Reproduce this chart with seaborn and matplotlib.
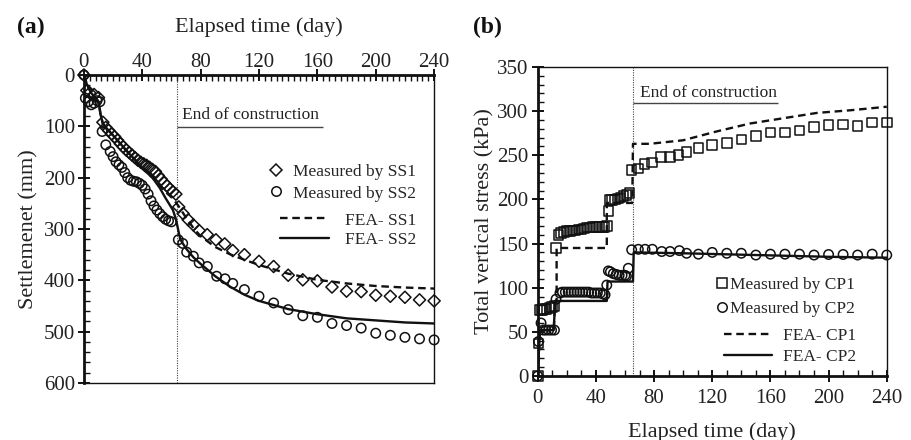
import numpy as np
import pandas as pd
import matplotlib
matplotlib.use("Agg")
import matplotlib.pyplot as plt
import seaborn as sns
from matplotlib.ticker import MultipleLocator
from matplotlib.lines import Line2D

# ---------------- data: panel (a) settlement ----------------
ss1_day = [0, 2, 4, 7, 10, 13, 15, 17, 19, 21, 23, 25, 27, 29, 31, 33, 35, 37, 39, 41,
           43, 45, 47, 49, 51, 53, 55, 57, 59, 61, 63, 65, 68, 71.5, 75, 79, 84.5, 90.5,
           96.5, 102, 110, 120, 130, 140, 150, 160, 170, 180, 190, 200, 210, 220, 230, 240]
ss1_mm = [0, 30, 35, 38, 44, 92, 102, 108, 115, 120, 127, 134, 140, 146, 151, 156, 161, 166,
          170, 173, 176, 180, 184, 188, 196, 203, 210, 216, 222, 227, 232, 257, 270, 282, 292,
          303, 311, 321, 329, 342, 350, 363, 373, 390, 399, 401, 413, 421, 422, 429, 431, 433,
          438, 440]

ss2_day = [0, 1, 3, 5, 7, 9, 11, 12.5, 15, 18, 20, 22, 24, 26, 28, 30, 32, 34, 36, 38, 40,
           42, 44, 46, 48, 50, 52, 54, 56, 58, 60, 64.7, 67.7, 70.4, 75, 79, 84.6, 91, 96.7,
           102, 110, 120, 130, 140, 150, 160, 170, 180, 190, 200, 210, 220, 230, 240]
ss2_mm = [0, 45, 52, 58, 55, 50, 52, 110, 136, 149, 159, 169, 175, 180, 190, 200, 205, 207,
          208, 211, 215, 222, 232, 245, 255, 263, 270, 276, 281, 284, 286, 321, 328, 345, 353,
          366, 373, 392, 397, 406, 418, 431, 444, 457, 469, 472, 484, 488, 493, 503, 507, 511,
          514, 516]

fea_ss1_day = [0, 2, 5, 10, 11.5, 13, 16, 22, 30, 35, 40, 47, 52, 56, 60, 63, 66, 70, 75, 80,
               90, 100, 110, 120, 140, 160, 180, 200, 220, 240]
fea_ss1_mm = [0, 18, 35, 52, 78, 95, 105, 124, 150, 165, 182, 200, 215, 228, 238, 248, 260,
              278, 298, 314, 335, 349, 360, 370, 387, 399, 406, 411, 414, 416]

fea_ss2_day = [0, 2, 5, 10, 11.5, 13, 16, 22, 30, 35, 40, 47, 52, 56, 61, 63, 64.5, 66, 70,
               75, 80, 90, 100, 110, 120, 140, 160, 180, 200, 220, 240]
fea_ss2_mm = [0, 18, 35, 52, 78, 95, 105, 124, 150, 165, 182, 200, 220, 240, 263, 280, 300,
              320, 338, 355, 368, 392, 412, 428, 440, 456, 466, 474, 478, 482, 484]

# ---------------- data: panel (b) total vertical stress ----------------
cp1_day = [0, 0.5, 1.5, 3, 4.5, 6, 8, 10, 11.5, 12.6, 14.2, 16, 18, 20, 22, 24, 26, 28, 30,
           32, 34, 36, 38, 40, 42, 44, 46, 47.5, 48.6, 49.5, 51, 53, 55, 57, 59, 61, 63, 64.6,
           69.2, 73.3, 78.4, 84.8, 91, 96.7, 102.4, 110.5, 120, 130, 140, 150, 160, 170, 180,
           190, 200, 210, 220, 230, 240]
cp1_kpa = [0, 37, 75, 75, 76, 76, 77, 78, 79, 145, 160, 162, 163, 164, 164, 165, 165, 166,
           166, 167, 168, 168, 169, 169, 169, 169, 169, 170, 187, 199, 199, 200, 201, 202, 204,
           205, 207, 233, 235, 240, 242, 248, 248, 250, 254, 258, 262, 264, 268, 272, 276, 276,
           278, 282, 284, 285, 283, 287, 287]

cp2_day = [0, 0.5, 2.3, 3.8, 5.5, 7.5, 9.5, 11.5, 12.6, 15.3, 17, 19, 21, 23, 25, 27, 29, 31,
           33, 35, 37, 39, 41, 43, 45, 46.3, 47.5, 48.6, 50, 52, 54, 56, 58, 60, 61, 62.3, 64.6,
           69.2, 73.8, 78.8, 85.3, 91, 97.4, 102.4, 110.5, 120, 130, 140, 150, 160, 170, 180,
           190, 200, 210, 220, 230, 240]
cp2_kpa = [0, 39, 60, 52, 52, 52, 52, 52, 87, 94, 95, 95, 95, 95, 95, 95, 95, 95, 95, 95, 94,
           94, 94, 94, 93, 92, 103, 119, 118, 116, 115, 114, 114, 114, 113, 122, 143, 143.5,
           143.5, 143.5, 141, 141, 142, 139, 138, 140, 139, 139, 137, 138, 138, 138, 137, 137.6,
           137.6, 137, 138, 137]

fea_cp1_day = [0, 1.5, 11, 12, 13, 13, 47.5, 47.5, 65, 65.5, 77, 100, 123, 146, 169, 192, 215, 240]
fea_cp1_kpa = [0, 52, 52, 85, 85, 145, 145, 196, 196, 263, 263, 267, 277, 286, 292, 298, 301, 305]

fea_cp2_day = [0, 1.5, 11, 12, 47.5, 48, 65.5, 66, 100, 150, 200, 240]
fea_cp2_kpa = [0, 52, 52, 85, 85, 107, 107, 140, 139, 137, 135, 134]

xticks = [0, 40, 80, 120, 160, 200, 240]
eoc_a = 63.5
eoc_b = 65.3

# ---------------- style ----------------
sns.set_theme(style="ticks")
plt.rcParams['font.family'] = ['Liberation Serif', 'DejaVu Serif']
TXT = '#222222'
FS_T = 15
FS_L = 16
FS_G = 12.5

fig = plt.figure(figsize=(9.12, 4.4), dpi=100)
ax1 = fig.add_axes([0.092, 0.1295, 0.384, 0.700])
ax2 = fig.add_axes([0.5896, 0.1455, 0.3827, 0.7022])

dash = (3.2, 2.0)
lw = 1.7
ms = 46

# ---------------- panel (a) ----------------
sns.scatterplot(x=ss1_day, y=ss1_mm, ax=ax1, marker='D', s=38, facecolor='none',
                edgecolor='#111111', linewidth=1.1, clip_on=False, zorder=4)
sns.scatterplot(x=ss2_day, y=ss2_mm, ax=ax1, marker='o', s=ms, facecolor='none',
                edgecolor='#111111', linewidth=1.1, clip_on=False, zorder=4)
sns.lineplot(x=fea_ss1_day, y=fea_ss1_mm, ax=ax1, estimator=None, sort=False,
             color='#111111', lw=lw, zorder=3)
ax1.lines[-1].set_dashes(dash)
sns.lineplot(x=fea_ss2_day, y=fea_ss2_mm, ax=ax1, estimator=None, sort=False,
             color='#111111', lw=lw, zorder=3)
ax1.axvline(eoc_a, color='#444444', lw=0.8, ls=(0, (1, 1.2)), zorder=2)
ax1.text(eoc_a + 4, 78, 'End of construction', fontsize=FS_G, color=TXT,
         ha='left', va='center')
ax1.hlines(101, eoc_a, 164, color='#444444', lw=1.0)

ax1.set_xlim(0, 240)
ax1.set_ylim(600, 0)
ax1.xaxis.tick_top()
ax1.xaxis.set_label_position('top')
ax1.set_xticks(xticks)
ax1.xaxis.set_minor_locator(MultipleLocator(4))
ax1.set_yticks(range(0, 601, 100))
ax1.yaxis.set_minor_locator(MultipleLocator(20))
ax1.set_xlabel('Elapsed time (day)', fontsize=FS_L, color=TXT, labelpad=15)
ax1.set_ylabel('Settlemenet (mm)', fontsize=FS_L, color=TXT, labelpad=4)
ax1.tick_params(axis='both', which='major', direction='inout', length=9, width=1.4,
                labelsize=FS_T, colors='#111111', labelcolor=TXT, pad=2)
ax1.tick_params(axis='x', which='major', pad=-2)
ax1.tick_params(axis='both', which='minor', direction='in', length=4, width=1.0, colors='#111111')
ax1.tick_params(axis='x', which='both', top=True, bottom=False)
ax1.tick_params(axis='y', which='both', left=True, right=False)
for s, w in [('left', 2.0), ('top', 2.0), ('right', 1.0), ('bottom', 1.0)]:
    ax1.spines[s].set_visible(True)
    ax1.spines[s].set_linewidth(w)
    ax1.spines[s].set_color('#111111')

h_m = [Line2D([], [], ls='none', marker='D', ms=6.2, mfc='none', mec='#111111', mew=1.1),
       Line2D([], [], ls='none', marker='o', ms=6.8, mfc='none', mec='#111111', mew=1.1)]
leg1 = ax1.legend(h_m, ['Measured by SS1', 'Measured by SS2'], loc='upper right',
                  bbox_to_anchor=(0.948, 0.711), frameon=False, fontsize=FS_G,
                  handlelength=1.0, handletextpad=0.5, labelspacing=0.3, borderaxespad=0,
                  borderpad=0)
ax1.add_artist(leg1)
h_l = [Line2D([], [], color='#111111', lw=lw, dashes=dash),
       Line2D([], [], color='#111111', lw=lw)]
ax1.legend(h_l, ['FEA- SS1', 'FEA- SS2'], loc='upper right', bbox_to_anchor=(0.948, 0.554),
           frameon=False, fontsize=FS_G, handlelength=2.8, handletextpad=0.9,
           labelspacing=0.2, borderaxespad=0, borderpad=0)

fig.text(0.019, 0.925, '(a)', fontsize=17, fontweight='bold', color='#111111')

# ---------------- panel (b) ----------------
sns.scatterplot(x=cp1_day, y=cp1_kpa, ax=ax2, marker='s', s=48, facecolor='none',
                edgecolor='#111111', linewidth=1.1, clip_on=False, zorder=4)
sns.scatterplot(x=cp2_day, y=cp2_kpa, ax=ax2, marker='o', s=ms, facecolor='none',
                edgecolor='#111111', linewidth=1.1, clip_on=False, zorder=4)
sns.lineplot(x=fea_cp1_day, y=fea_cp1_kpa, ax=ax2, estimator=None, sort=False,
             color='#111111', lw=lw, zorder=3)
ax2.lines[-1].set_dashes(dash)
sns.lineplot(x=fea_cp2_day, y=fea_cp2_kpa, ax=ax2, estimator=None, sort=False,
             color='#111111', lw=lw, zorder=3)
ax2.axvline(eoc_b, color='#444444', lw=0.8, ls=(0, (1, 1.2)), zorder=2)
ax2.text(eoc_b + 5, 321, 'End of construction', fontsize=FS_G, color=TXT,
         ha='left', va='center')
ax2.hlines(309, eoc_b, 165, color='#444444', lw=1.0)

ax2.set_xlim(0, 240)
ax2.set_ylim(0, 350)
ax2.set_xticks(xticks)
ax2.xaxis.set_minor_locator(MultipleLocator(10))
ax2.set_yticks(range(0, 351, 50))
ax2.yaxis.set_minor_locator(MultipleLocator(10))
ax2.set_xlabel('Elapsed time (day)', fontsize=FS_L, color=TXT, labelpad=10)
ax2.set_ylabel('Total vertical stress (kPa)', fontsize=FS_L, color=TXT, labelpad=2)
ax2.tick_params(axis='both', which='major', direction='inout', length=9, width=1.4,
                labelsize=FS_T, colors='#111111', labelcolor=TXT, pad=2)
ax2.tick_params(axis='x', which='major', pad=5)
ax2.tick_params(axis='both', which='minor', direction='in', length=4, width=1.0, colors='#111111')
ax2.tick_params(axis='x', which='both', top=False, bottom=True)
ax2.tick_params(axis='y', which='both', left=True, right=False)
for s, w in [('left', 2.0), ('bottom', 2.0), ('right', 1.0), ('top', 1.0)]:
    ax2.spines[s].set_visible(True)
    ax2.spines[s].set_linewidth(w)
    ax2.spines[s].set_color('#111111')

h_m2 = [Line2D([], [], ls='none', marker='s', ms=6.8, mfc='none', mec='#111111', mew=1.1),
        Line2D([], [], ls='none', marker='o', ms=6.8, mfc='none', mec='#111111', mew=1.1)]
leg2 = ax2.legend(h_m2, ['Measured by CP1', 'Measured by CP2'], loc='upper right',
                  bbox_to_anchor=(0.909, 0.321), frameon=False, fontsize=FS_G,
                  handlelength=0.6, handletextpad=0.15, labelspacing=0.45, borderaxespad=0,
                  borderpad=0)
ax2.add_artist(leg2)
h_l2 = [Line2D([], [], color='#111111', lw=lw, dashes=dash),
        Line2D([], [], color='#111111', lw=lw)]
ax2.legend(h_l2, ['FEA- CP1', 'FEA- CP2'], loc='upper right', bbox_to_anchor=(0.912, 0.156),
           frameon=False, fontsize=FS_G, handlelength=2.8, handletextpad=0.6,
           labelspacing=0.3, borderaxespad=0, borderpad=0)

fig.text(0.519, 0.925, '(b)', fontsize=17, fontweight='bold', color='#111111')

fig.savefig('out.png', dpi=100)
